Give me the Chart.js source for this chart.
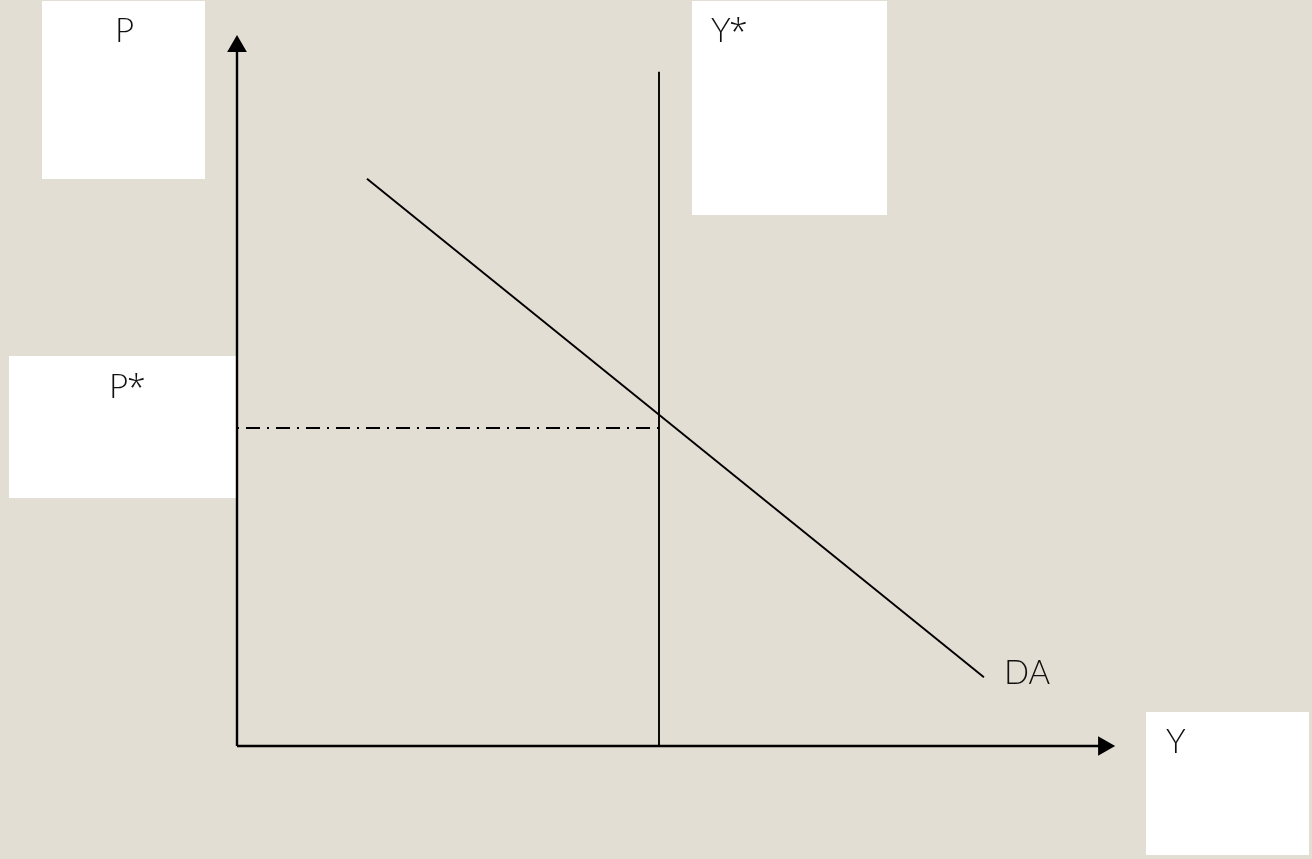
<!DOCTYPE html>
<html>
<head>
<meta charset="utf-8">
<script src="https://cdn.jsdelivr.net/npm/chart.js@4/dist/chart.umd.min.js"></script>
<style>
  html, body { margin: 0; padding: 0; background: #e3ded3; }
  #wrap { width: 1312px; height: 859px; position: relative; }
</style>
</head>
<body>
<div id="wrap"><canvas id="chartDA"></canvas></div>
<script>
// equilibrium values
const yStar = 5
const pStar = 5
// DA curve (output Y, price P)
const daY = [1.54, 8.85]
const daP = [8.92, 1.08]
// axis ends
const yAxisEnd = 11.0
const xAxisEnd = 10.27
const yStarTop = 10.6

// layout: where the origin sits and px per unit
const ORIGIN_X = 237, ORIGIN_Y = 746
const PX_X = 84.4, PX_Y = 63.6
const W = 1312, H = 859

const labelBoxes = {
    id: 'labelBoxes',
    beforeDatasetsDraw(chart) {
        const ctx = chart.ctx;
        ctx.save();
        ctx.fillStyle = '#ffffff';
        ctx.fillRect(42, 1, 163, 178);    // P
        ctx.fillRect(692, 1, 195, 214);   // Y*
        ctx.fillRect(9, 356, 228, 142);   // P*
        ctx.fillRect(1146, 712, 163, 143); // Y
        ctx.restore();
    },
    afterDatasetsDraw(chart) {
        const ctx = chart.ctx;
        ctx.save();
        ctx.fillStyle = '#111111';
        ctx.font = '300 33px Lato, "Open Sans", sans-serif';
        ctx.textBaseline = 'alphabetic';
        ctx.fillText('P', 115, 42);
        ctx.fillText('Y', 711, 42);
        ctx.fillText('P', 109, 398);
        ctx.fillText('Y', 1166, 753);
        ctx.fillText('DA', 1004, 684);
        // the asterisks sit high, as in the original font
        ctx.font = '300 34px "Open Sans", sans-serif';
        ctx.fillText('*', 729, 44);
        ctx.fillText('*', 127, 400);
        ctx.restore();
    }
};

const line = (data, extra) => Object.assign({
    data: data,
    showLine: true,
    borderColor: '#000000',
    backgroundColor: '#000000',
    borderWidth: 1.9,
    pointRadius: 0,
    clip: false
}, extra || {});

var ctxDA = document.getElementById('chartDA').getContext('2d');
var chartDA = new Chart(ctxDA, {
    type: 'scatter',
    data: {
        datasets: [
            line([{x: 0, y: 0}, {x: 0, y: yAxisEnd}],
                {borderWidth: 2.4, pointRadius: [0, 9], pointStyle: 'triangle', rotation: 0}),
            line([{x: 0, y: 0}, {x: xAxisEnd, y: 0}],
                {borderWidth: 2.4, pointRadius: [0, 9], pointStyle: 'triangle', rotation: 90}),
            line([{x: yStar, y: 0}, {x: yStar, y: yStarTop}]),
            line([{x: 0, y: pStar}, {x: yStar, y: pStar}], {borderDash: [2, 7, 14, 7]}),
            line([{x: daY[0], y: daP[0]}, {x: daY[1], y: daP[1]}])
        ]
    },
    options: {
        responsive: true,
        maintainAspectRatio: false,
        animation: false,
        layout: { padding: 0, autoPadding: false },
        plugins: { legend: { display: false }, tooltip: { enabled: false } },
        scales: {
            x: { type: 'linear', display: false,
                 min: -ORIGIN_X / PX_X, max: (W - ORIGIN_X) / PX_X },
            y: { type: 'linear', display: false,
                 min: -(H - ORIGIN_Y) / PX_Y, max: ORIGIN_Y / PX_Y }
        }
    },
    plugins: [labelBoxes]
});
</script>
</body>
</html>
